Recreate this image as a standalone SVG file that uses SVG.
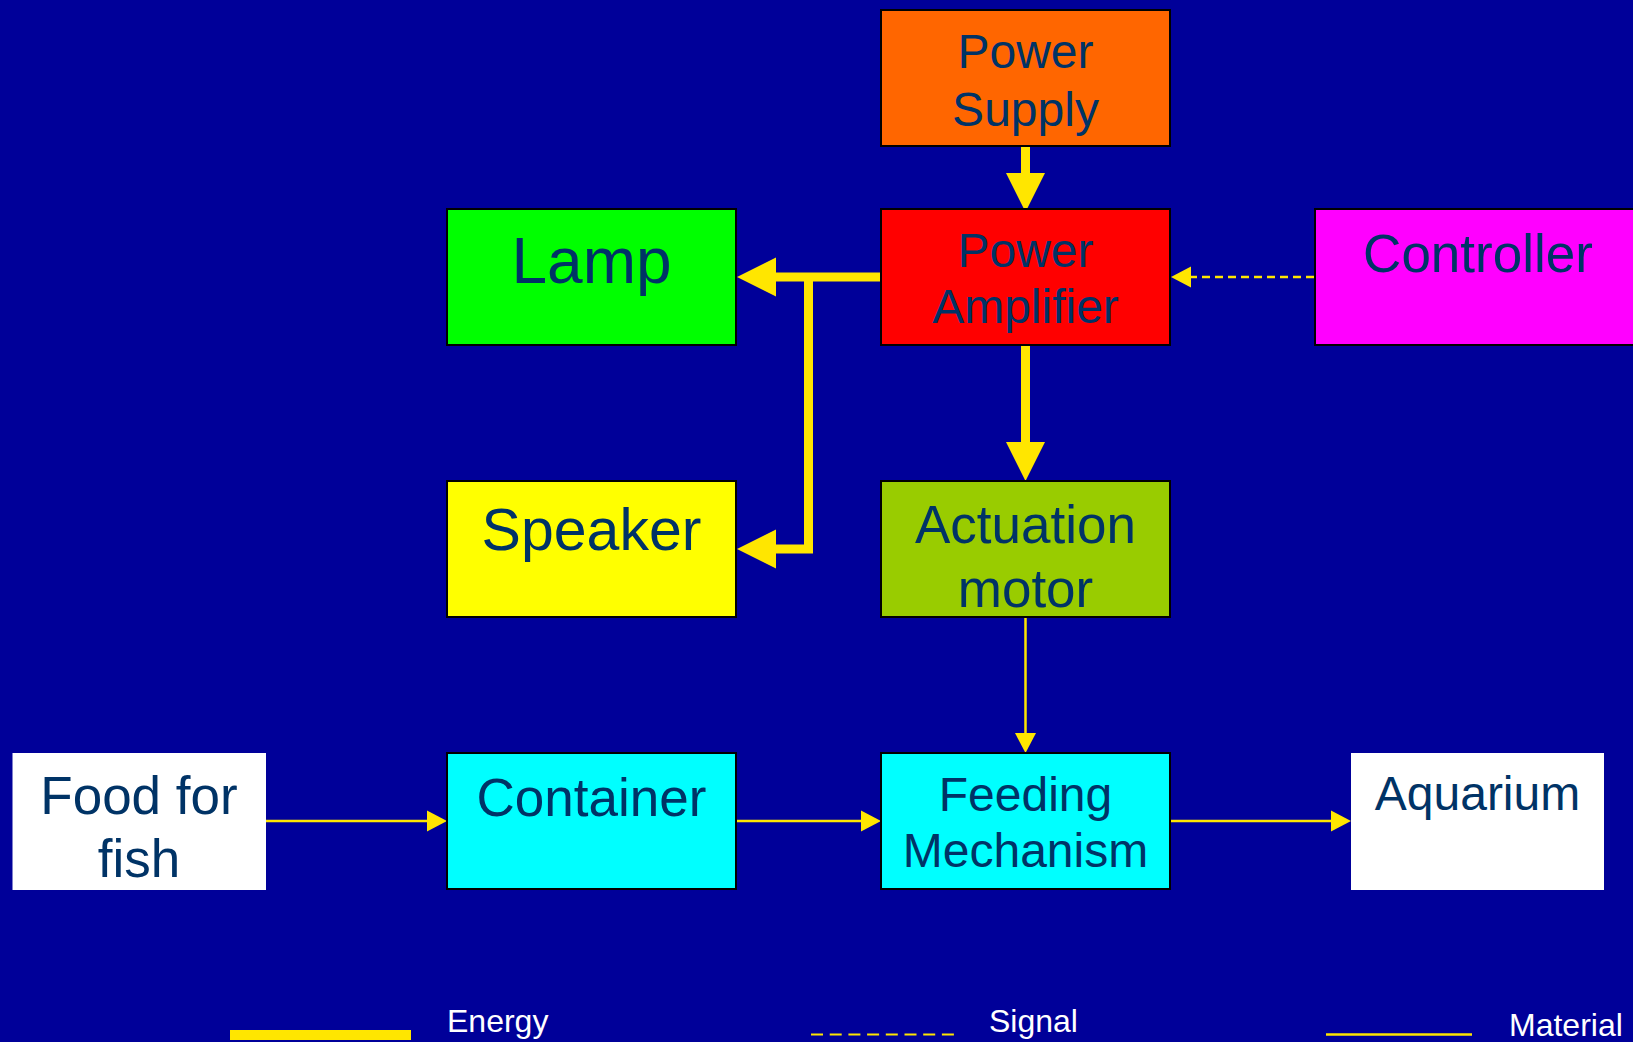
<svg xmlns="http://www.w3.org/2000/svg" width="1633" height="1042" viewBox="0 0 1633 1042">
  <style>
    .box { stroke: #000000; stroke-width: 2; }
    .plain { stroke: none; }
    .lbl { font-family: "Liberation Sans", Arial, sans-serif; fill: #003366; text-anchor: middle; }
    .leg { font-family: "Liberation Sans", Arial, sans-serif; fill: #FFFFFF; font-size: 32px; }
    .energy { stroke: #FFE600; stroke-width: 9; fill: none; }
    .material { stroke: #FFE600; stroke-width: 2.5; fill: none; }
    .signal { stroke: #FFE600; stroke-width: 2.5; fill: none; stroke-dasharray: 8 5; }
  </style>
  <defs>
    <marker id="bigArrow" markerUnits="userSpaceOnUse" markerWidth="40" markerHeight="40" refX="0" refY="19.5" orient="auto" overflow="visible">
      <path d="M0,0 L39,19.5 L0,39 Z" fill="#FFE600"/>
    </marker>
    <marker id="smallArrow" markerUnits="userSpaceOnUse" markerWidth="21" markerHeight="21" refX="0" refY="10.5" orient="auto" overflow="visible">
      <path d="M0,0 L20,10.5 L0,21 Z" fill="#FFE600"/>
    </marker>
  </defs>

  <rect x="0" y="0" width="1633" height="1042" fill="#000099"/>

  <g id="connectors">
    <line class="energy" x1="1025.5" y1="146" x2="1025.5" y2="173" marker-end="url(#bigArrow)"/>
    <line class="energy" x1="1025.5" y1="345" x2="1025.5" y2="442" marker-end="url(#bigArrow)"/>
    <line class="energy" x1="881" y1="277" x2="776" y2="277" marker-end="url(#bigArrow)"/>
    <polyline class="energy" points="808.5,277 808.5,549 776,549" marker-end="url(#bigArrow)"/>
    <line class="signal" x1="1314" y1="277" x2="1191" y2="277" marker-end="url(#smallArrow)"/>
    <line class="material" x1="1025.5" y1="617" x2="1025.5" y2="733" marker-end="url(#smallArrow)"/>
    <line class="material" x1="266" y1="821" x2="427" y2="821" marker-end="url(#smallArrow)"/>
    <line class="material" x1="736" y1="821" x2="861" y2="821" marker-end="url(#smallArrow)"/>
    <line class="material" x1="1170" y1="821" x2="1331" y2="821" marker-end="url(#smallArrow)"/>
  </g>

  <g id="power-supply">
    <rect class="box" x="881" y="10" width="289" height="136" fill="#FF6600"/>
    <text class="lbl" x="1025.5" y="68" font-size="48">Power</text>
    <text class="lbl" x="1025.5" y="126" font-size="48">Supply</text>
  </g>
  <g id="power-amplifier">
    <rect class="box" x="881" y="209" width="289" height="136" fill="#FF0000"/>
    <text class="lbl" x="1025.5" y="267" font-size="48">Power</text>
    <text class="lbl" x="1025.5" y="323" font-size="48">Amplifier</text>
  </g>
  <g id="lamp">
    <rect class="box" x="447" y="209" width="289" height="136" fill="#00FF00"/>
    <text class="lbl" x="591.5" y="283" font-size="64">Lamp</text>
  </g>
  <g id="controller">
    <rect class="box" x="1315" y="209" width="328" height="136" fill="#FF00FF"/>
    <text class="lbl" x="1478" y="272" font-size="53">Controller</text>
  </g>
  <g id="speaker">
    <rect class="box" x="447" y="481" width="289" height="136" fill="#FFFF00"/>
    <text class="lbl" x="591.5" y="550" font-size="59">Speaker</text>
  </g>
  <g id="actuation-motor">
    <rect class="box" x="881" y="481" width="289" height="136" fill="#99CC00"/>
    <text class="lbl" x="1025.5" y="543" font-size="53">Actuation</text>
    <text class="lbl" x="1025.5" y="607" font-size="53">motor</text>
  </g>
  <g id="food-for-fish">
    <rect class="plain" x="12.5" y="753" width="253.5" height="137" fill="#FFFFFF"/>
    <text class="lbl" x="139" y="814" font-size="53">Food for</text>
    <text class="lbl" x="139" y="877" font-size="53">fish</text>
  </g>
  <g id="container">
    <rect class="box" x="447" y="753" width="289" height="136" fill="#00FFFF"/>
    <text class="lbl" x="591.5" y="816" font-size="53">Container</text>
  </g>
  <g id="feeding-mechanism">
    <rect class="box" x="881" y="753" width="289" height="136" fill="#00FFFF"/>
    <text class="lbl" x="1025.5" y="811" font-size="48">Feeding</text>
    <text class="lbl" x="1025.5" y="867" font-size="48">Mechanism</text>
  </g>
  <g id="aquarium">
    <rect class="plain" x="1351" y="753" width="253" height="137" fill="#FFFFFF"/>
    <text class="lbl" x="1477.5" y="810" font-size="48">Aquarium</text>
  </g>

  <g id="legend">
    <rect x="230" y="1030" width="181" height="10" fill="#FFE600"/>
    <text class="leg" x="447" y="1032">Energy</text>
    <line x1="811" y1="1034.5" x2="954" y2="1034.5" stroke="#FFE600" stroke-width="2" stroke-dasharray="12 6.7"/>
    <text class="leg" x="989" y="1032">Signal</text>
    <line x1="1326" y1="1034.5" x2="1472" y2="1034.5" stroke="#FFE600" stroke-width="2.5"/>
    <text class="leg" x="1509" y="1036">Material</text>
  </g>
</svg>
